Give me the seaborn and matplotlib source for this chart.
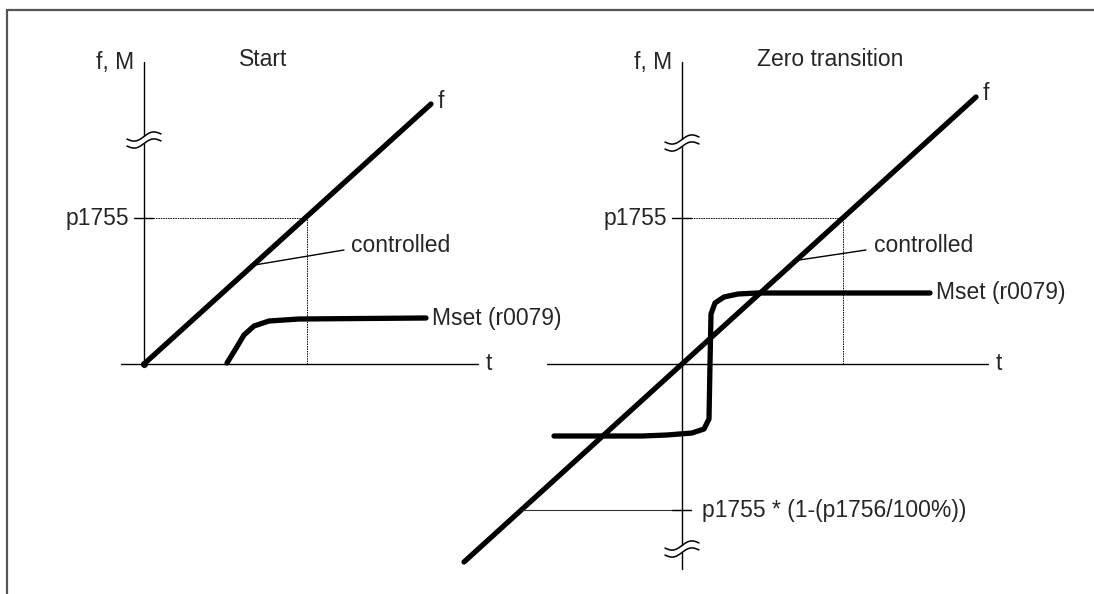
import numpy as np
import matplotlib.pyplot as plt
from matplotlib.lines import Line2D
import seaborn as sns

sns.set_theme(style="white")
plt.rcParams['font.family'] = ['Liberation Sans', 'DejaVu Sans']

# schematic values, 1 unit on both axes (t, f/M)
p1755 = 14.6
p1755_low = -14.6

# left panel: "Start"
start_f_t = [0.0, 28.7]
start_f_v = [0.0, 26.0]
start_m_t = [8.3, 9.1, 10.0, 11.0, 12.5, 15.5, 28.2]
start_m_v = [0.1, 1.4, 2.9, 3.8, 4.3, 4.5, 4.6]
start_t_p = 16.3

# right panel: "Zero transition"
zero_f_t = [-21.8, 29.4]
zero_f_v = [-19.8, 26.7]
zero_m_t = [-12.8, -4.0, -1.5, 1.0, 2.2, 2.7, 2.8, 2.9, 3.3, 4.2, 5.6, 7.5, 24.8]
zero_m_v = [-7.2, -7.2, -7.1, -6.9, -6.5, -5.5, 0.0, 5.0, 6.1, 6.7, 7.0, 7.1, 7.1]
zero_t_p = 16.1
zero_t_low = -16.1

W, H = 1094, 594
FS = 16.5
fig = plt.figure(figsize=(W / 100, H / 100), dpi=100)


def make_axes(ox, oy, box):
    x0, y0, x1, y1 = box
    ax = fig.add_axes([x0 / W, (H - y1) / H, (x1 - x0) / W, (y1 - y0) / H])
    ax.set_xlim((x0 - ox) / 10, (x1 - ox) / 10)
    ax.set_ylim((oy - y1) / 10, (oy - y0) / 10)
    ax.patch.set_alpha(0)
    ax.axis('off')
    return ax


def axis_break(ax, t, f):
    xs = np.linspace(-1.7, 1.7, 60)
    lo = f + 0.15 * xs + 0.32 * np.sin(np.pi * xs / 1.7) - 0.35
    hi = lo + 0.7
    ax.fill_between(t + xs, lo, hi, color='white', zorder=4, lw=0)
    ax.plot(t + xs, lo, color='black', lw=1.1, zorder=5)
    ax.plot(t + xs, hi, color='black', lw=1.1, zorder=5)


def common(ax, f_t, f_v, m_t, m_v, t_p, x_rng, y_rng, title, title_t, lead):
    ax.plot(x_rng, [0, 0], color='black', lw=1.0)
    ax.plot([0, 0], y_rng, color='black', lw=1.0)
    ax.text(x_rng[1] + 0.8, 0, 't', fontsize=FS, va='center', ha='left')
    ax.text(-1.0, y_rng[1], 'f, M', fontsize=FS, va='center', ha='right')
    ax.text(title_t, y_rng[1] + 0.2, title, fontsize=FS, va='center', ha='left')
    # p1755 guides
    ax.plot([-1.0, 0.9], [p1755, p1755], color='black', lw=1.0)
    ax.plot([0.9, t_p], [p1755, p1755], color='black', lw=0.7, ls=(0, (1.5, 1)))
    ax.plot([t_p, t_p], [0, p1755], color='black', lw=0.7, ls=(0, (1.5, 1)))
    ax.text(-1.5, p1755, 'p1755', fontsize=FS, va='center', ha='right')
    # curves
    sns.lineplot(x=f_t, y=f_v, ax=ax, sort=False, estimator=None, color='black', lw=3.8)
    sns.lineplot(x=m_t, y=m_v, ax=ax, sort=False, estimator=None, color='black', lw=3.8,
                 solid_capstyle='round', solid_joinstyle='round')
    ax.text(f_t[1] + 0.7, f_v[1] + 0.3, 'f', fontsize=FS, va='center', ha='left')
    ax.text(m_t[-1] + 0.6, m_v[-1], 'Mset (r0079)', fontsize=FS, va='center', ha='left')
    # "controlled" leader
    slope = f_v[1] / f_t[1]
    lt, le, ltxt = lead
    ax.plot([lt, le], [lt * slope, 11.4], color='black', lw=1.0)
    ax.text(ltxt, 11.8, 'controlled', fontsize=FS, va='center', ha='left')


axL = make_axes(144, 364, (40, 20, 560, 420))
common(axL, start_f_t, start_f_v, start_m_t, start_m_v, start_t_p,
       [-2.3, 33.4], [-0.3, 30.2], 'Start', 9.5, (10.9, 20.0, 20.7))
axL.plot([0], [0], 'o', color='black', ms=4)
axis_break(axL, 0, 22.4)

axR = make_axes(682, 364, (440, 20, 1085, 590))
common(axR, zero_f_t, zero_f_v, zero_m_t, zero_m_v, zero_t_p,
       [-13.5, 30.6], [-20.5, 30.2], 'Zero transition', 7.5, (11.4, 18.4, 19.2))
axR.plot([zero_t_low, 0.9], [p1755_low, p1755_low], color='#333333', lw=0.8)
axR.plot([-1.0, 0.9], [p1755_low, p1755_low], color='black', lw=1.0)
axR.text(2.0, p1755_low, 'p1755 * (1-(p1756/100%))', fontsize=FS, va='center', ha='left')
axis_break(axR, 0, 22.1)
axis_break(axR, 0, -18.5)

# outer frame (top and left edges only)
fig.add_artist(Line2D([7 / W, 7 / W], [0, 1 - 10 / H], color='#555555', lw=1.6))
fig.add_artist(Line2D([7 / W, 1], [1 - 10 / H, 1 - 10 / H], color='#555555', lw=1.6))

fig.savefig('out.png', dpi=100)
